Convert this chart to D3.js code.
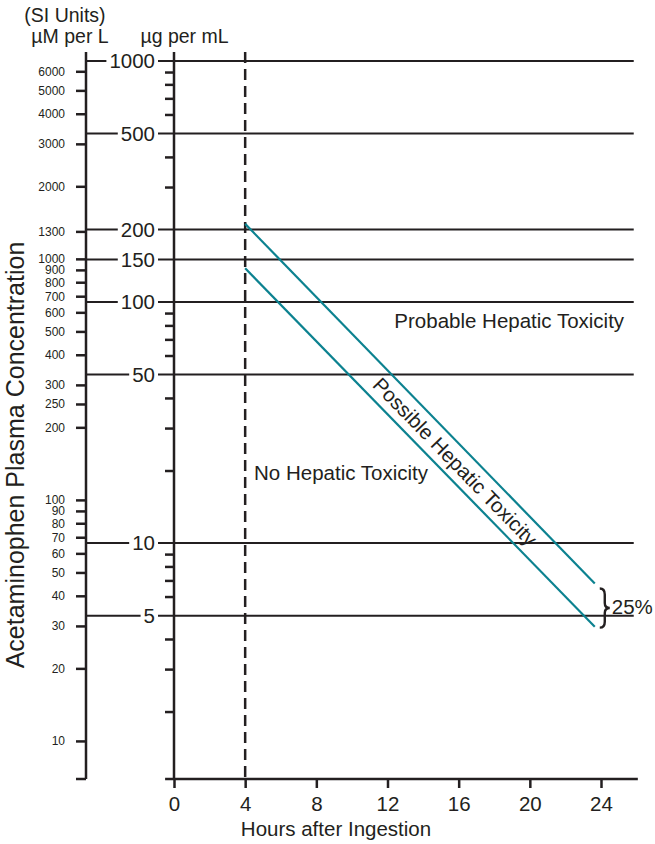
<!DOCTYPE html>
<html>
<head>
<meta charset="utf-8">
<script src="https://cdn.jsdelivr.net/npm/d3@7/dist/d3.min.js"></script>
<style>
  html, body { margin: 0; padding: 0; background: #fff; }
  svg { display: block; font-family: "Liberation Sans", Arial, Helvetica, sans-serif; }
</style>
</head>
<body>
<svg id="chart" width="655" height="844"></svg>
<script>
// ---------- data ----------
const hourTicks = [0, 4, 8, 12, 16, 20, 24];
const ugGridValues = [1000, 500, 200, 150, 100, 50, 10, 5];
const ugGridLabels = ["1000", "500", "200", "150", "100", "50", "10", "5"];
const ugMinorTicks = [900, 800, 700, 600, 400, 300, 90, 80, 70, 60, 40, 30, 20, 9, 8, 7, 6, 4, 3, 2];
const umTicks = [6000, 5000, 4000, 3000, 2000, 1300, 1000, 900, 800, 700, 600, 500, 400, 300, 250, 200,
                 100, 90, 80, 70, 60, 50, 40, 30, 20, 10];
const umPerUg = 6.62;
const upperLineHours = [4, 23.65];
const upperLineValues = [211, 6.8];
const lowerLineHours = [4, 23.65];
const lowerLineValues = [138, 4.5];
const regionLabels = ["Probable Hepatic Toxicity", "No Hepatic Toxicity", "Possible Hepatic Toxicity"];

// ---------- setup ----------
const ink = "#231f20";
const teal = "#0c8290";
const svg = d3.select("#chart");

const x = d3.scaleLinear().domain([0, 24]).range([174, 601]);
const y = d3.scaleLog().domain([1.05, 1000]).range([779, 61]);
const yUm = d3.scaleLog().domain([1.05 * umPerUg, 1000 * umPerUg]).range([779, 61]);

const yTopVal = 1090, yBotVal = 1.05;
const xLeftH = -0.5, xRightH = 26.07, gridRightH = 25.84;
const umAxisX = 86;

// ---------- gridlines ----------
const grid = svg.append("g");
ugGridValues.forEach((v, i) => {
  grid.append("line")
    .attr("x1", umAxisX).attr("x2", x(gridRightH))
    .attr("y1", y(v)).attr("y2", y(v))
    .attr("stroke", ink).attr("stroke-width", 2);
});
ugGridValues.forEach((v, i) => {
  const t = svg.append("text")
    .attr("x", 155).attr("y", y(v))
    .attr("dy", "0.36em")
    .attr("text-anchor", "end")
    .attr("font-size", 20.5)
    .attr("fill", ink)
    .text(ugGridLabels[i]);
  const bb = t.node().getBBox();
  svg.insert("rect", () => t.node())
    .attr("x", bb.x - 3).attr("y", y(v) - 3)
    .attr("width", bb.width + 6).attr("height", 6)
    .attr("fill", "#fff");
});

// ---------- µM per L axis ----------
const umAxis = d3.axisLeft(yUm).tickValues(umTicks).tickSize(10).tickPadding(11)
  .tickFormat(d3.format("d")).tickSizeOuter(0);
const gUm = svg.append("g").attr("transform", `translate(${umAxisX},0)`).call(umAxis);
gUm.select(".domain").remove();
gUm.selectAll(".tick line").attr("stroke", ink).attr("stroke-width", 2.5);
gUm.selectAll(".tick text").attr("font-size", 12).attr("fill", ink)
  .attr("font-family", "\"Liberation Sans\", Arial, sans-serif");
svg.append("line").attr("x1", umAxisX).attr("x2", umAxisX)
  .attr("y1", y(yTopVal)).attr("y2", y(yBotVal))
  .attr("stroke", ink).attr("stroke-width", 2.5);
svg.append("line").attr("x1", umAxisX - 10).attr("x2", umAxisX)
  .attr("y1", y(yBotVal)).attr("y2", y(yBotVal))
  .attr("stroke", ink).attr("stroke-width", 2.5);

// ---------- µg per mL axis ----------
const ugAxis = d3.axisLeft(y).tickValues(ugMinorTicks).tickSize(9).tickFormat("").tickSizeOuter(0);
const gUg = svg.append("g").attr("transform", `translate(${x(0)},0)`).call(ugAxis);
gUg.select(".domain").remove();
gUg.selectAll(".tick line").attr("stroke", ink).attr("stroke-width", 2.5);
svg.append("line").attr("x1", x(0)).attr("x2", x(0))
  .attr("y1", y(yTopVal)).attr("y2", y(yBotVal))
  .attr("stroke", ink).attr("stroke-width", 2.5);

// ---------- x axis ----------
const xAxis = d3.axisBottom(x).tickValues(hourTicks).tickSize(9).tickPadding(8).tickSizeOuter(0);
const gX = svg.append("g").attr("transform", `translate(0,${y(yBotVal)})`).call(xAxis);
gX.select(".domain").remove();
gX.selectAll(".tick line").attr("stroke", ink).attr("stroke-width", 2.5);
gX.selectAll(".tick text").attr("font-size", 20.5).attr("fill", ink)
  .attr("font-family", "\"Liberation Sans\", Arial, sans-serif");
svg.append("line").attr("x1", x(xLeftH)).attr("x2", x(xRightH))
  .attr("y1", y(yBotVal)).attr("y2", y(yBotVal))
  .attr("stroke", ink).attr("stroke-width", 2.5);

// ---------- 4-hour dashed line ----------
svg.append("line").attr("x1", x(4)).attr("x2", x(4))
  .attr("y1", y(yTopVal)).attr("y2", y(yBotVal))
  .attr("stroke", ink).attr("stroke-width", 2.5).attr("stroke-dasharray", "11,6");

// ---------- treatment lines ----------
const lineGen = d3.line().x(d => x(d[0])).y(d => y(d[1]));
const upper = upperLineHours.map((h, i) => [h, upperLineValues[i]]);
const lower = lowerLineHours.map((h, i) => [h, lowerLineValues[i]]);
[upper, lower].forEach(pts => {
  svg.append("path").attr("d", lineGen(pts))
    .attr("fill", "none").attr("stroke", teal).attr("stroke-width", 2.2);
});

// ---------- region labels ----------
svg.append("text").attr("x", x(25.3)).attr("y", y(78))
  .attr("text-anchor", "end").attr("font-size", 20.5).attr("fill", ink)
  .text(regionLabels[0]);
svg.append("text").attr("x", x(4.5)).attr("y", y(18.2))
  .attr("text-anchor", "start").attr("font-size", 20.5).attr("fill", ink)
  .text(regionLabels[1]);

function logInterp(pts, h) {
  const [a, b] = pts;
  const t = (h - a[0]) / (b[0] - a[0]);
  return Math.exp(Math.log(a[1]) + t * (Math.log(b[1]) - Math.log(a[1])));
}
const hMid = 15.8;
const vMid = Math.sqrt(logInterp(upper, hMid) * logInterp(lower, hMid));
const ang = Math.atan2(y(upper[1][1]) - y(upper[0][1]), x(upper[1][0]) - x(upper[0][0])) * 180 / Math.PI;
svg.append("text")
  .attr("transform", `translate(${x(hMid)},${y(vMid)}) rotate(${ang})`)
  .attr("text-anchor", "middle").attr("dy", "0.35em")
  .attr("font-size", 20.5).attr("fill", ink)
  .text(regionLabels[2]);

// ---------- 25% brace ----------
const bx = x(upper[1][0]) + 5;
const bTop = y(upper[1][1]) + 5;
const bBot = y(lower[1][1]) + 1;
const bMid = (bTop + bBot) / 2;
svg.append("path")
  .attr("d", `M${bx},${bTop} Q${bx + 5},${bTop} ${bx + 5},${bTop + 6} L${bx + 5},${bMid - 5} Q${bx + 5},${bMid} ${bx + 10},${bMid}
              Q${bx + 5},${bMid} ${bx + 5},${bMid + 5} L${bx + 5},${bBot - 6} Q${bx + 5},${bBot} ${bx},${bBot}`)
  .attr("fill", "none").attr("stroke", ink).attr("stroke-width", 2.4);
svg.append("text").attr("x", bx + 12).attr("y", bMid + 6)
  .attr("font-size", 20.5).attr("fill", ink).text("25%");

// ---------- titles ----------
svg.append("text").attr("x", 65).attr("y", 22).attr("text-anchor", "middle")
  .attr("font-size", 19.5).attr("fill", ink).text("(SI Units)");
svg.append("text").attr("x", 70).attr("y", 43).attr("text-anchor", "middle")
  .attr("font-size", 19.5).attr("fill", ink).text("µM per L");
svg.append("text").attr("x", 184.5).attr("y", 43).attr("text-anchor", "middle")
  .attr("font-size", 19.5).attr("fill", ink).text("µg per mL");
svg.append("text").attr("transform", "translate(24,455) rotate(-90)")
  .attr("text-anchor", "middle").attr("font-size", 25).attr("fill", ink)
  .text("Acetaminophen Plasma Concentration");
svg.append("text").attr("x", 336).attr("y", 836).attr("text-anchor", "middle")
  .attr("font-size", 20.5).attr("fill", ink).text("Hours after Ingestion");
</script>
</body>
</html>
